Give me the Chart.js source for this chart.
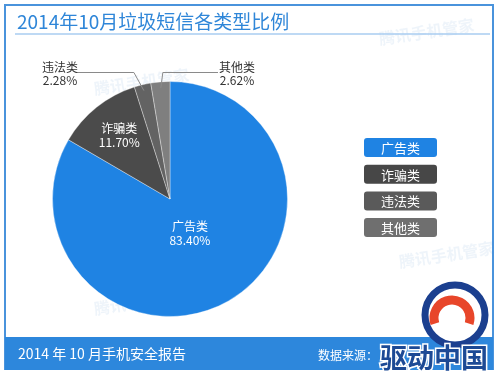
<!DOCTYPE html>
<html>
<head>
<meta charset="utf-8">
<script src="https://cdn.jsdelivr.net/npm/chart.js@4"></script>
<style>
  html, body { margin: 0; padding: 0; background: #fff; }
  #wrap { position: relative; width: 500px; height: 377px; }
</style>
</head>
<body>
<div id="wrap"><canvas id="spamChart" width="500" height="377"></canvas></div>
<script>
const categories = ['广告类', '诈骗类', '违法类', '其他类'];
const shares = [83.40, 11.70, 2.28, 2.62];
const sliceColors = ['#1f83e3', '#4b4b4b', '#636363', '#7f7f7f'];
const legendColors = ['#1f83e3', '#474747', '#5a5a5a', '#6f6f6f'];
const titleText = '2014年10月垃圾短信各类型比例';
const footerText = '2014 年 10 月手机安全报告';
const sourceText = '数据来源：';

const FONT = '"Noto Sans CJK SC", "Noto Sans", sans-serif';

// frame, title and footer
const framePlugin = {
    id: 'frame',
    beforeDraw(chart) {
        const c = chart.ctx;
        c.save();
        c.fillStyle = '#fff';
        c.fillRect(0, 0, 500, 377);
        // faint watermarks
        c.fillStyle = 'rgba(120,170,220,0.13)';
        c.font = 'bold 16px ' + FONT;
        [[95, 95], [380, 45], [95, 315], [400, 268]].forEach(([x, y]) => {
            c.save();
            c.translate(x, y);
            c.rotate(-0.15);
            c.fillText('腾讯手机管家', 0, 0);
            c.restore();
        });
        c.strokeStyle = '#4a93dc';
        c.lineWidth = 2;
        c.strokeRect(5, 5, 488, 364);
        c.fillStyle = '#2d87dc';
        c.fillRect(5, 337, 488, 33);
        c.strokeStyle = '#a9cdf0';
        c.lineWidth = 1.5;
        c.beginPath();
        c.moveTo(15, 34);
        c.lineTo(490, 34);
        c.stroke();
        c.fillStyle = '#2f86d8';
        c.font = '19px ' + FONT;
        c.textBaseline = 'alphabetic';
        c.fillText(titleText, 17, 29);
        c.fillStyle = '#fff';
        c.font = '14px ' + FONT;
        c.textBaseline = 'middle';
        c.fillText(footerText, 18, 354);
        c.font = '12px ' + FONT;
        c.fillText(sourceText, 318, 355);
        c.restore();
    },
    afterDraw(chart) {
        const c = chart.ctx;
        c.save();
        // logo watermark in the footer corner
        c.beginPath();
        c.arc(455, 315, 30, 0, Math.PI * 2);
        c.fillStyle = '#ffffff';
        c.fill();
        c.lineWidth = 7;
        c.strokeStyle = '#1b3f8f';
        c.stroke();
        c.beginPath();
        c.arc(452, 318, 18, Math.PI * 0.9, Math.PI * 2.1);
        c.lineWidth = 9;
        c.strokeStyle = '#e8462a';
        c.stroke();
        c.font = 'bold 27px ' + FONT;
        c.textBaseline = 'middle';
        c.lineWidth = 3;
        c.strokeStyle = '#ffffff';
        c.strokeText('驱动中国', 380, 358);
        c.fillStyle = '#1d4a95';
        c.fillText('驱动中国', 380, 358);
        c.restore();
    }
};

// slice labels and leader lines
const labelPlugin = {
    id: 'sliceLabels',
    afterDatasetsDraw(chart) {
        const c = chart.ctx;
        const arcs = chart.getDatasetMeta(0).data;
        c.save();
        c.textAlign = 'center';
        c.textBaseline = 'middle';
        c.font = '12px ' + FONT;
        const inside = { 0: 0.34, 1: 0.69 };
        arcs.forEach((arc, i) => {
            const p = arc.getProps(['x', 'y', 'startAngle', 'endAngle', 'outerRadius'], true);
            const mid = (p.startAngle + p.endAngle) / 2;
            const txt = shares[i].toFixed(2) + '%';
            if (inside[i] !== undefined) {
                const r = p.outerRadius * inside[i];
                const x = p.x + Math.cos(mid) * r;
                const y = p.y + Math.sin(mid) * r;
                c.fillStyle = '#fff';
                c.fillText(categories[i], x, y - 7);
                c.fillText(txt, x, y + 7);
            } else {
                const ex = p.x + Math.cos(mid) * (p.outerRadius - 6);
                const ey = p.y + Math.sin(mid) * (p.outerRadius - 6);
                const left = i === 2;
                const elbowX = left ? ex - 10 : ex + 2;
                const endX = left ? 77 : 218;
                c.strokeStyle = '#8a8a8a';
                c.lineWidth = 1;
                c.beginPath();
                c.moveTo(ex, ey);
                c.lineTo(elbowX, 72.5);
                c.lineTo(endX, 72.5);
                c.stroke();
                c.fillStyle = '#333';
                const tx = left ? 60 : 237;
                c.fillText(categories[i], tx, 67);
                c.fillText(txt, tx, 80);
            }
        });
        c.restore();
    }
};

// legend boxes on the right
const legendPlugin = {
    id: 'boxLegend',
    afterDraw(chart) {
        const c = chart.ctx;
        c.save();
        c.font = '13px ' + FONT;
        c.textAlign = 'center';
        c.textBaseline = 'middle';
        categories.forEach((name, i) => {
            const x = 364, y = 138 + i * 26.7, w = 73, h = 19;
            c.beginPath();
            c.roundRect(x, y, w, h, 3);
            c.fillStyle = legendColors[i];
            c.fill();
            c.fillStyle = '#fff';
            c.fillText(name, x + w / 2, y + h / 2 + 0.5);
        });
        c.restore();
    }
};

new Chart(document.getElementById('spamChart').getContext('2d'), {
    type: 'pie',
    data: {
        labels: categories,
        datasets: [{
            data: shares,
            backgroundColor: sliceColors,
            borderColor: 'rgba(255,255,255,0.35)',
            borderWidth: 1
        }]
    },
    options: {
        responsive: false,
        animation: false,
        layout: { padding: { left: 52, right: 212, top: 81, bottom: 60 } },
        plugins: {
            legend: { display: false },
            tooltip: { enabled: false }
        }
    },
    plugins: [framePlugin, labelPlugin, legendPlugin]
});
</script>
</body>
</html>
